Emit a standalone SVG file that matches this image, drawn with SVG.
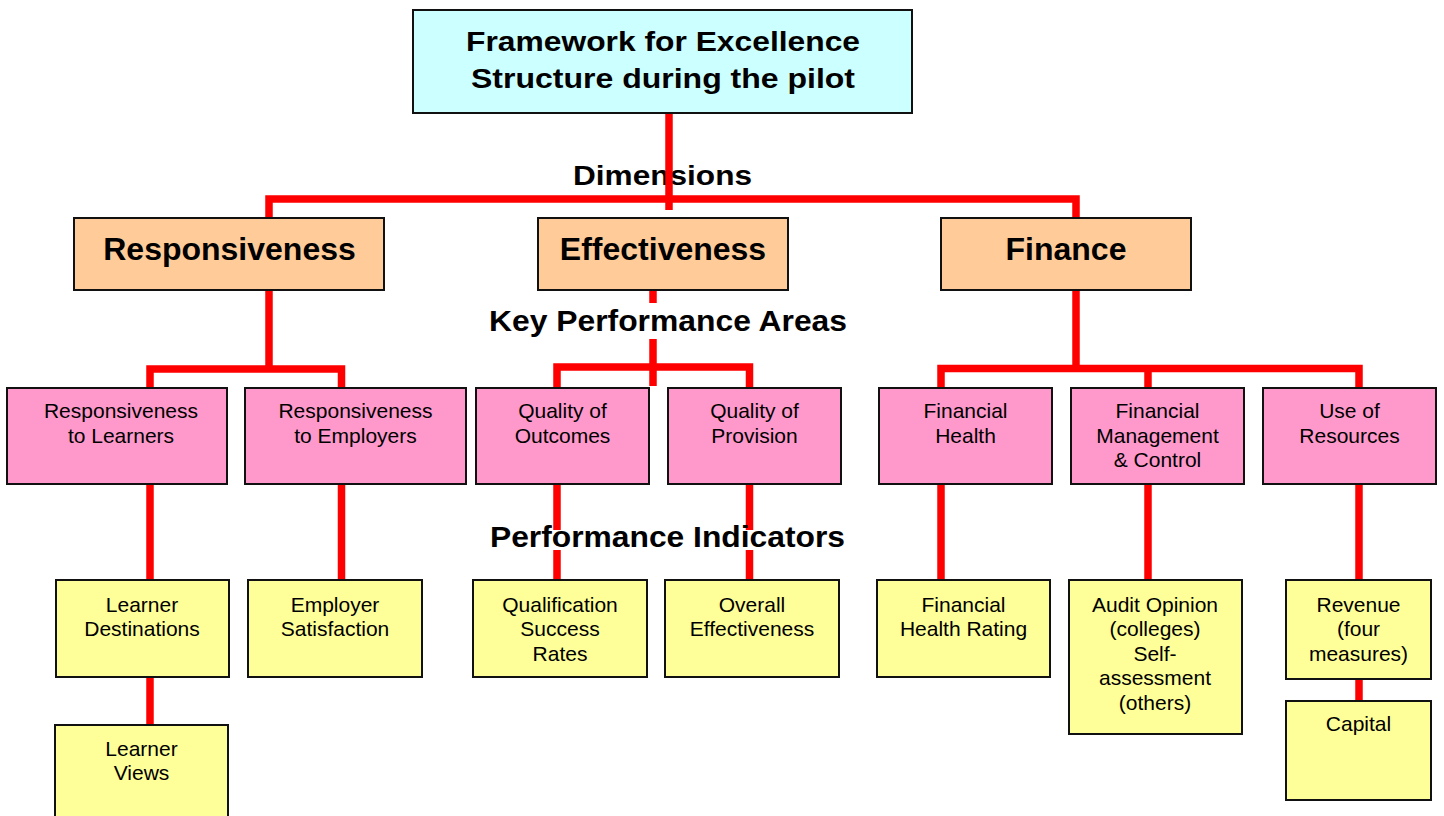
<svg xmlns="http://www.w3.org/2000/svg" width="1444" height="816" viewBox="0 0 1444 816">
<style>
.box{stroke:#111;stroke-width:2}
.top{fill:#CCFFFF}
.dim{fill:#FFCC99}
.kpa{fill:#FF99CC}
.pi{fill:#FFFF99}
.c{fill:none;stroke:#FF0000;stroke-width:7.5;stroke-linejoin:miter}
text{font-family:"Liberation Sans",Arial,sans-serif;fill:#000;text-anchor:middle}
.b{font-weight:bold}
.t32{font-size:32px;font-weight:bold}
.t21{font-size:21px}
</style>
<rect x="0" y="0" width="1444" height="816" fill="#FFFFFF"/>
<text class="b" x="662.5" y="185" font-size="28" textLength="179" lengthAdjust="spacingAndGlyphs">Dimensions</text>
<g id="connectors">
<path class="c" d="M669,113 V210"/>
<path class="c" d="M269,218 V199 H1076 V218"/>
<path class="c" d="M269,290 V369"/>
<path class="c" d="M150,388 V369 H341.5 V388"/>
<path class="c" d="M653,290 V386"/>
<path class="c" d="M557,388 V367 H749.5 V388"/>
<path class="c" d="M1076,290 V368.5"/>
<path class="c" d="M941,388 V368.5 H1359 V388"/>
<path class="c" d="M1148,368.5 V388"/>
<path class="c" d="M150,484 V580"/>
<path class="c" d="M341.5,484 V580"/>
<path class="c" d="M557,484 V580"/>
<path class="c" d="M749.5,484 V580"/>
<path class="c" d="M941,484 V580"/>
<path class="c" d="M1148,484 V580"/>
<path class="c" d="M1359,484 V580"/>
<path class="c" d="M150,677 V725"/>
<path class="c" d="M1359,679 V701"/>
</g>
<g id="labels">
<rect x="487" y="303" width="362" height="36" fill="#FFFFFF"/>
<text class="b" x="668" y="331" font-size="30" textLength="358" lengthAdjust="spacingAndGlyphs">Key Performance Areas</text>
<rect x="488" y="530" width="359" height="20" fill="#FFFFFF"/>
<text class="b" x="667.5" y="547" font-size="30" textLength="355" lengthAdjust="spacingAndGlyphs">Performance Indicators</text>
</g>
<g id="n-title">
<rect class="box top" x="413" y="10" width="499" height="103"/>
<text class="b" x="663" y="51" font-size="28.5" textLength="394" lengthAdjust="spacingAndGlyphs">Framework for Excellence</text>
<text class="b" x="663" y="88" font-size="28.5" textLength="384" lengthAdjust="spacingAndGlyphs">Structure during the pilot</text>
</g>
<g id="n-responsiveness">
<rect class="box dim" x="74" y="218" width="310" height="72"/>
<text class="t32" x="229.5" y="260">Responsiveness</text>
</g>
<g id="n-effectiveness">
<rect class="box dim" x="538" y="218" width="250" height="72"/>
<text class="t32" x="663" y="260">Effectiveness</text>
</g>
<g id="n-finance">
<rect class="box dim" x="941" y="218" width="250" height="72"/>
<text class="t32" x="1066" y="260">Finance</text>
</g>
<g id="n-resp-learners">
<rect class="box kpa" x="7" y="388" width="220" height="96"/>
<text class="t21" x="121" y="418">Responsiveness</text>
<text class="t21" x="121" y="443">to Learners</text>
</g>
<g id="n-resp-employers">
<rect class="box kpa" x="245" y="388" width="221" height="96"/>
<text class="t21" x="355.5" y="418">Responsiveness</text>
<text class="t21" x="355.5" y="443">to Employers</text>
</g>
<g id="n-quality-outcomes">
<rect class="box kpa" x="476" y="388" width="173" height="96"/>
<text class="t21" x="562.5" y="418">Quality of</text>
<text class="t21" x="562.5" y="443">Outcomes</text>
</g>
<g id="n-quality-provision">
<rect class="box kpa" x="668" y="388" width="173" height="96"/>
<text class="t21" x="754.5" y="418">Quality of</text>
<text class="t21" x="754.5" y="443">Provision</text>
</g>
<g id="n-financial-health">
<rect class="box kpa" x="879" y="388" width="173" height="96"/>
<text class="t21" x="965.5" y="418">Financial</text>
<text class="t21" x="965.5" y="443">Health</text>
</g>
<g id="n-financial-management">
<rect class="box kpa" x="1071" y="388" width="173" height="96"/>
<text class="t21" x="1157.5" y="418">Financial</text>
<text class="t21" x="1157.5" y="443">Management</text>
<text class="t21" x="1157.5" y="467">&amp; Control</text>
</g>
<g id="n-use-resources">
<rect class="box kpa" x="1263" y="388" width="173" height="96"/>
<text class="t21" x="1349.5" y="418">Use of</text>
<text class="t21" x="1349.5" y="443">Resources</text>
</g>
<g id="n-learner-destinations">
<rect class="box pi" x="56" y="580" width="173" height="97"/>
<text class="t21" x="142" y="611.5">Learner</text>
<text class="t21" x="142" y="636">Destinations</text>
</g>
<g id="n-learner-views">
<rect class="box pi" x="55" y="725" width="173" height="100"/>
<text class="t21" x="141.5" y="756">Learner</text>
<text class="t21" x="141.5" y="780">Views</text>
</g>
<g id="n-employer-satisfaction">
<rect class="box pi" x="248" y="580" width="174" height="97"/>
<text class="t21" x="335" y="611.5">Employer</text>
<text class="t21" x="335" y="636">Satisfaction</text>
</g>
<g id="n-qsr">
<rect class="box pi" x="473" y="580" width="174" height="97"/>
<text class="t21" x="560" y="611.5">Qualification</text>
<text class="t21" x="560" y="636">Success</text>
<text class="t21" x="560" y="660.5">Rates</text>
</g>
<g id="n-overall-effectiveness">
<rect class="box pi" x="665" y="580" width="174" height="97"/>
<text class="t21" x="752" y="611.5">Overall</text>
<text class="t21" x="752" y="636">Effectiveness</text>
</g>
<g id="n-fhr">
<rect class="box pi" x="877" y="580" width="173" height="97"/>
<text class="t21" x="963.5" y="611.5">Financial</text>
<text class="t21" x="963.5" y="636">Health Rating</text>
</g>
<g id="n-audit">
<rect class="box pi" x="1069" y="580" width="173" height="154"/>
<text class="t21" x="1155" y="611.5">Audit Opinion</text>
<text class="t21" x="1155" y="636">(colleges)</text>
<text class="t21" x="1155" y="660.5">Self-</text>
<text class="t21" x="1155" y="685">assessment</text>
<text class="t21" x="1155" y="709.5">(others)</text>
</g>
<g id="n-revenue">
<rect class="box pi" x="1286" y="580" width="145" height="99"/>
<text class="t21" x="1358.5" y="611.5">Revenue</text>
<text class="t21" x="1358.5" y="636">(four</text>
<text class="t21" x="1358.5" y="660.5">measures)</text>
</g>
<g id="n-capital">
<rect class="box pi" x="1286" y="701" width="145" height="99"/>
<text class="t21" x="1358.5" y="731">Capital</text>
</g>
</svg>
